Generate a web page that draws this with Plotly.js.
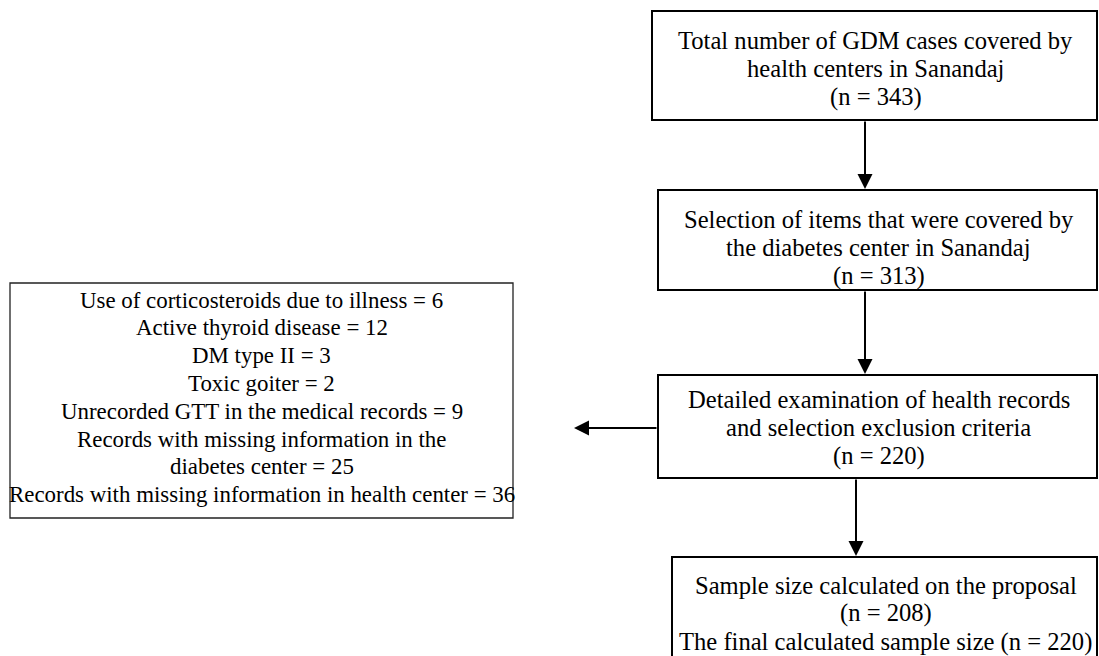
<!DOCTYPE html>
<html>
<head>
<meta charset="utf-8">
<script src="https://cdn.plot.ly/plotly-3.0.1.min.js"></script>
<style>html,body{margin:0;padding:0;background:#fff;}#chart{width:1099px;height:656px;}</style>
</head>
<body>
<div id="chart"></div>
<script>
// ---- data ----
var stepLabels = [
  ["Total number of GDM cases covered by", "health centers in Sanandaj"],
  ["Selection of items that were covered by", "the diabetes center in Sanandaj"],
  ["Detailed examination of health records", "and selection exclusion criteria"],
  ["Sample size calculated on the proposal"]
];
var stepCounts = [343, 313, 220, 208];
var finalSampleSize = 220;
var exclusionReasons = [
  ["Use of corticosteroids due to illness"],
  ["Active thyroid disease"],
  ["DM type II"],
  ["Toxic goiter"],
  ["Unrecorded GTT in the medical records"],
  ["Records with missing information in the", "diabetes center"],
  ["Records with missing information in health center"]
];
var exclusionCounts = [6, 12, 3, 2, 9, 25, 36];

// ---- layout geometry (pixel space) ----
var boxes = [
  {x0: 652, x1: 1097, y0: 11,  y1: 120, w: 2, firstLine: 40},
  {x0: 658, x1: 1097, y0: 190, y1: 290, w: 2, firstLine: 219},
  {x0: 658, x1: 1097, y0: 375, y1: 478, w: 2, firstLine: 399},
  {x0: 672, x1: 1097, y0: 557, y1: 700, w: 2, firstLine: 585}
];
var exBox = {x0: 10, x1: 513, y0: 283, y1: 518, w: 1.3, firstLine: 300};
var lineGapRight = 28.4;
var lineGapLeft = 27.8;
var FAM = "Liberation Serif";

var shapes = [];
boxes.forEach(function(b){
  shapes.push({type:"rect", xref:"x", yref:"y", x0:b.x0, x1:b.x1, y0:b.y0, y1:b.y1,
    line:{color:"#000", width:b.w}, fillcolor:"rgba(0,0,0,0)"});
});
shapes.push({type:"rect", xref:"x", yref:"y", x0:exBox.x0, x1:exBox.x1, y0:exBox.y0, y1:exBox.y1,
  line:{color:"#222", width:exBox.w}, fillcolor:"rgba(0,0,0,0)"});

var annotations = [];
function addLines(lines, cx, y0, gap, size){
  lines.forEach(function(t, k){
    annotations.push({x:cx, y:y0 + k*gap, xref:"x", yref:"y", text:t,
      showarrow:false, font:{family:FAM, size:size, color:"#000"}, xanchor:"center", yanchor:"middle"});
  });
}
stepLabels.forEach(function(lbl, i){
  var lines = lbl.slice();
  lines.push("(n = " + stepCounts[i] + ")");
  if (i === 3) lines.push("The final calculated sample size (n = " + finalSampleSize + ")");
  var b = boxes[i];
  addLines(lines, (b.x0+b.x1)/2 + 1, b.firstLine, lineGapRight, 24.6);
});
var exLines = [];
exclusionReasons.forEach(function(r, i){
  var parts = r.slice();
  parts[parts.length-1] = parts[parts.length-1] + " = " + exclusionCounts[i];
  exLines = exLines.concat(parts);
});
addLines(exLines, (exBox.x0+exBox.x1)/2, exBox.firstLine, lineGapLeft, 22.9);

// arrows
var arrows = [
  {x:865, y:189, ax:865, ay:120},
  {x:865, y:374, ax:865, ay:290},
  {x:856, y:556, ax:856, ay:478},
  {x:574, y:428, ax:658, ay:428}
];
arrows.forEach(function(a){
  annotations.push({x:a.x, y:a.y, ax:a.ax, ay:a.ay, xref:"x", yref:"y", axref:"x", ayref:"y",
    text:"", showarrow:true, arrowhead:2, arrowsize:1.5, arrowwidth:2, arrowcolor:"#000", standoff:0, startstandoff:0});
});

var layout = {
  width:1099, height:656,
  margin:{l:0, r:0, t:0, b:0},
  paper_bgcolor:"#fff", plot_bgcolor:"#fff",
  font:{family:FAM},
  xaxis:{range:[0,1099], visible:false, fixedrange:true},
  yaxis:{range:[656,0], visible:false, fixedrange:true},
  shapes:shapes,
  annotations:annotations,
  showlegend:false
};
Plotly.newPlot("chart", [{x:[], y:[], type:"scatter", mode:"markers", hoverinfo:"skip"}], layout, {staticPlot:true, displayModeBar:false});
</script>
</body>
</html>
